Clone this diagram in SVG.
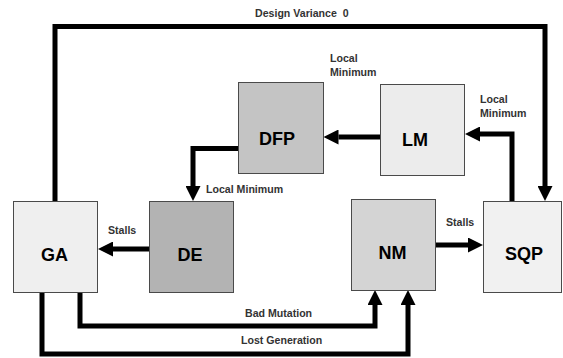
<svg xmlns="http://www.w3.org/2000/svg" width="563" height="358" viewBox="0 0 563 358">
<style>
.box{stroke:#4a4a4a;stroke-width:1}
.nl{font-family:"Liberation Sans",Arial,sans-serif;font-weight:bold;font-size:18px;fill:#000;text-anchor:middle}
.el{font-family:"Liberation Sans",Arial,sans-serif;font-weight:bold;font-size:10.6px;fill:#333}
.c{fill:none;stroke:#000;stroke-width:5;marker-end:url(#ah)}
</style>
<defs>
<marker id="ah" viewBox="0 0 10 10" refX="0" refY="5" markerWidth="3" markerHeight="3" orient="auto" markerUnits="strokeWidth">
<path d="M0,0 L10,5 L0,10 Z" fill="#000"/>
</marker>
</defs>
<rect width="563" height="358" fill="#fff"/>
<g id="connectors">
<path class="c" d="M55,201 V26.5 H545 V186"/>
<path class="c" d="M512,201 V134 H480"/>
<path class="c" d="M380,137 H338.5"/>
<path class="c" d="M238,148.5 H193 V186"/>
<path class="c" d="M149,249 H113"/>
<path class="c" d="M436,245 H468"/>
<path class="c" d="M80,292 V326 H375 V305"/>
<path class="c" d="M42,292 V354 H408 V305"/>
</g>
<g id="labels">
<text class="el" x="255" y="17" xml:space="preserve">Design Variance  0</text>
<text class="el" x="330" y="62">Local</text>
<text class="el" x="330" y="76">Minimum</text>
<text class="el" x="480" y="103">Local</text>
<text class="el" x="480" y="117">Minimum</text>
<text class="el" x="206" y="193">Local Minimum</text>
<text class="el" x="108" y="234">Stalls</text>
<text class="el" x="446" y="226">Stalls</text>
<text class="el" x="245" y="317">Bad Mutation</text>
<text class="el" x="241" y="344">Lost Generation</text>
</g>
<g id="GA"><rect class="box" x="13.5" y="201.5" width="84" height="91" fill="#efefef"/><text class="nl" x="54.5" y="261">GA</text></g>
<g id="DE"><rect class="box" x="149.5" y="201.5" width="84" height="91" fill="#b3b3b3"/><text class="nl" x="190" y="261">DE</text></g>
<g id="DFP"><rect class="box" x="238.5" y="82.5" width="85" height="91" fill="#c4c4c4"/><text class="nl" x="277" y="145">DFP</text></g>
<g id="LM"><rect class="box" x="380.5" y="84.5" width="84" height="91" fill="#ececec"/><text class="nl" x="415" y="146">LM</text></g>
<g id="NM"><rect class="box" x="351.5" y="199.5" width="84" height="91" fill="#d4d4d4"/><text class="nl" x="392.5" y="259">NM</text></g>
<g id="SQP"><rect class="box" x="483.5" y="201.5" width="78" height="91" fill="#f1f1f1"/><text class="nl" x="524" y="260">SQP</text></g>
</svg>
